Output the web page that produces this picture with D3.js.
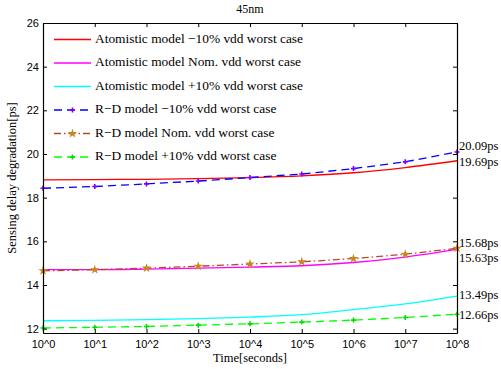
<!DOCTYPE html>
<html>
<head>
<meta charset="utf-8">
<script src="https://cdn.jsdelivr.net/npm/d3@7"></script>
<style>
  body { margin: 0; background: #fff; }
  svg { display: block; }
</style>
</head>
<body>
<div id="chart"></div>
<script>
// decades of time (10^k seconds)
const decades = [0, 1, 2, 3, 4, 5, 6, 7, 8];
const yTicks = [12, 14, 16, 18, 20, 22, 24, 26];

const atomMinus = [18.81, 18.83, 18.84, 18.87, 18.92, 19.00, 19.14, 19.38, 19.69];
const atomNom = [14.70, 14.70, 14.73, 14.77, 14.82, 14.88, 15.03, 15.28, 15.63];
const atomPlus = [12.36, 12.38, 12.41, 12.46, 12.53, 12.64, 12.87, 13.13, 13.49];
const rdMinus = [18.43, 18.51, 18.63, 18.76, 18.92, 19.08, 19.33, 19.64, 20.09];
const rdNom = [14.65, 14.70, 14.77, 14.86, 14.96, 15.06, 15.21, 15.41, 15.68];
const rdPlus = [12.03, 12.06, 12.10, 12.16, 12.22, 12.30, 12.39, 12.51, 12.66];

const seriesNames = [
  "Atomistic model \u221210% vdd worst case",
  "Atomistic model Nom. vdd worst case",
  "Atomistic model +10% vdd worst case",
  "R\u2212D model \u221210% vdd worst case",
  "R\u2212D model Nom. vdd worst case",
  "R\u2212D model +10% vdd worst case"
];
const endLabels = ["19.69ps", "15.63ps", "13.49ps", "20.09ps", "15.68ps", "12.66ps"];

const W = 501, H = 369;
const margin = { left: 43, right: 44, top: 23, bottom: 36 };
const serif = "'Liberation Serif', 'DejaVu Serif', serif";
const sans = "'Liberation Sans', Arial, sans-serif";

const svg = d3.select("#chart").append("svg")
  .attr("width", W).attr("height", H);

const x = d3.scaleLinear().domain([0, 8]).range([margin.left, W - margin.right]);
const y = d3.scaleLinear().domain([11.8, 26]).range([H - margin.bottom, margin.top]);

// series styles
const styles = [
  { data: atomMinus, color: "#ff0000", dash: null, curve: d3.curveMonotoneX, marker: null },
  { data: atomNom, color: "#ff00ff", dash: null, curve: d3.curveMonotoneX, marker: null },
  { data: atomPlus, color: "#00ffff", dash: null, curve: d3.curveMonotoneX, marker: null },
  { data: rdMinus, color: "#0000ff", dash: "8,5", curve: d3.curveLinear, marker: "plus", mcolor: "#8000ff" },
  { data: rdNom, color: "#b5492a", dash: "7,3,1.5,3", curve: d3.curveLinear, marker: "star", mcolor: "#c8861e" },
  { data: rdPlus, color: "#00ff00", dash: "8,5", curve: d3.curveLinear, marker: "plus", mcolor: "#00dd00" }
];

const plot = svg.append("g");

styles.forEach((s) => {
  const line = d3.line().x((d, i) => x(decades[i])).y(d => y(d)).curve(s.curve);
  plot.append("path")
    .attr("d", line(s.data))
    .attr("fill", "none")
    .attr("stroke", s.color)
    .attr("stroke-width", 1.3)
    .attr("stroke-dasharray", s.dash);
  if (s.marker) {
    s.data.forEach((d, i) => drawMarker(plot, s.marker, x(decades[i]), y(d), s.mcolor));
  }
});

function drawMarker(g, type, cx, cy, color) {
  if (type === "plus") {
    g.append("path")
      .attr("d", `M${cx - 2.5},${cy}H${cx + 2.5}M${cx},${cy - 2.5}V${cy + 2.5}`)
      .attr("stroke", color).attr("stroke-width", 1.6).attr("fill", "none");
  } else {
    g.append("path")
      .attr("d", d3.symbol(d3.symbolStar, 28)())
      .attr("transform", `translate(${cx},${cy})`)
      .attr("fill", color);
  }
}

// axes box with inward ticks
const xAxis = d3.axisBottom(x).tickValues(decades).tickSize(-4).tickSizeOuter(0)
  .tickFormat(d => "10^" + d);
const yAxis = d3.axisLeft(y).tickValues(yTicks).tickSize(-4).tickSizeOuter(0);

const gx = svg.append("g").attr("transform", `translate(0,${H - margin.bottom})`).call(xAxis);
gx.selectAll("text").attr("dy", "1.05em").attr("font-family", sans).attr("font-size", 11).attr("fill", "#000");
const gy = svg.append("g").attr("transform", `translate(${margin.left},0)`).call(yAxis);
gy.selectAll("text").attr("dx", "-0.1em").attr("font-family", sans).attr("font-size", 11).attr("fill", "#000");

svg.append("g").attr("transform", `translate(0,${margin.top})`)
  .call(d3.axisTop(x).tickValues(decades).tickSize(-4).tickSizeOuter(0).tickFormat(""));
svg.append("g").attr("transform", `translate(${W - margin.right},0)`)
  .call(d3.axisRight(y).tickValues(yTicks).tickSize(-4).tickSizeOuter(0).tickFormat(""));

svg.selectAll(".domain").attr("stroke", "#000").attr("stroke-width", 1.2);
svg.selectAll(".tick line").attr("stroke", "#000");

// end labels (nudged so the close pairs do not collide)
const endYOffsets = [2, 10, 0, -5, -4, 1.5];
styles.forEach((s, i) => {
  svg.append("text")
    .attr("x", W - margin.right + 2)
    .attr("y", y(s.data[s.data.length - 1]) + endYOffsets[i])
    .attr("font-family", serif).attr("font-size", 12.5)
    .attr("dominant-baseline", "middle")
    .text(endLabels[i]);
});

// legend (no box)
const legend = svg.append("g");
seriesNames.forEach((name, i) => {
  const s = styles[i];
  const ly = 39.5 + i * 23.5;
  legend.append("line")
    .attr("x1", 54).attr("x2", 91).attr("y1", ly).attr("y2", ly)
    .attr("stroke", s.color).attr("stroke-width", 1.3)
    .attr("stroke-dasharray", s.dash);
  if (s.marker) drawMarker(legend, s.marker, 72.5, ly, s.mcolor);
  legend.append("text")
    .attr("x", 95).attr("y", ly)
    .attr("dominant-baseline", "middle")
    .attr("font-family", serif).attr("font-size", 13.4)
    .text(name);
});

// title and axis labels
svg.append("text")
  .attr("x", (margin.left + W - margin.right) / 2).attr("y", 13)
  .attr("text-anchor", "middle")
  .attr("font-family", serif).attr("font-size", 12)
  .text("45nm");

svg.append("text")
  .attr("x", (margin.left + W - margin.right) / 2).attr("y", 362)
  .attr("text-anchor", "middle")
  .attr("font-family", serif).attr("font-size", 12.5)
  .text("Time[seconds]");

svg.append("text")
  .attr("transform", `translate(16,${(margin.top + H - margin.bottom) / 2}) rotate(-90)`)
  .attr("text-anchor", "middle")
  .attr("font-family", serif).attr("font-size", 12.5)
  .text("Sensing delay degradation[ps]");
</script>
</body>
</html>
